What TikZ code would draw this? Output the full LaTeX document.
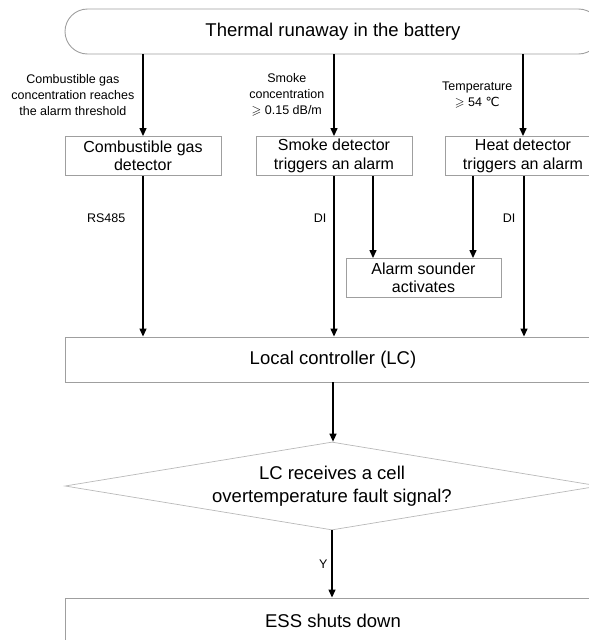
\documentclass[tikz,border=0pt]{standalone}
\usepackage{amssymb}
\usepackage{fontspec}
\setmainfont{Liberation Sans}
\newfontfamily\degfont{DejaVu Sans}
\usetikzlibrary{positioning,arrows.meta,shapes.geometric}

\begin{document}
\begin{tikzpicture}[x=1pt, y=-1pt,
  >={Triangle[length=8pt,width=7pt]},
  every node/.style={font=\fontsize{16}{18.4}\selectfont},
  box/.style={draw=gray!75, line width=0.9pt, align=center, inner sep=0pt,
    minimum width=156pt, minimum height=39pt},
  wide/.style={box, minimum width=536pt, minimum height=45pt,
    font=\fontsize{18.5}{21}\selectfont},
  start/.style={wide, rounded corners=22.5pt},
  decide/.style={diamond, draw=gray!55, line width=0.7pt, align=center, inner sep=0pt,
    shape aspect=6, minimum width=534pt, minimum height=88pt,
    font=\fontsize{18.5}{23}\selectfont},
  cond/.style={font=\fontsize{12.5}{16}\selectfont, align=center, inner sep=0pt},
  flow/.style={->, line width=1.3pt}]
  \useasboundingbox (0,0) rectangle (589,640);

  \node[start] (runaway) at (333,31.5) {Thermal runaway in the battery};
  \node[box] (gas)   at (143,156) {Combustible gas\\detector};
  \node[box] (smoke) at (334,156) {Smoke detector\\triggers an alarm};
  \node[box] (heat)  at (523,156) {Heat detector\\triggers an alarm};
  \node[box, minimum width=155pt] (sounder) at (423.5,278) {Alarm sounder\\activates};
  \node[wide] (lc) at (333,359.5) {Local controller (LC)};
  \node[decide] (fault) at (332,486) {LC receives a cell\\overtemperature fault signal?};
  \node[wide] (ess) at (333,620.5) {ESS shuts down};

  % detection thresholds
  \draw[flow] (runaway.south -| gas) -- node[cond, left=8pt] (gaslbl)
    {Combustible gas\\concentration reaches\\the alarm threshold} (gas);
  \draw[flow] (runaway.south -| smoke) -- node[cond, left=9pt] (smokelbl)
    {Smoke\\concentration\\$\geqslant$ 0.15 dB/m} (smoke);
  \draw[flow] (runaway.south -| heat) -- node[cond, left=10pt] (heatlbl)
    {Temperature\\$\geqslant$ 54 {\degfont ℃}} (heat);

  % signals to the controller
  \draw[flow] (gas) -- node[cond, pos=0.26, left=17pt] (rs) {RS485} (gas |- lc.north);
  \draw[flow] (smoke) -- node[cond, pos=0.26, left=7pt] (di1) {DI} (smoke |- lc.north);
  \draw[flow] ([xshift=1pt]heat.south) -- node[cond, pos=0.26, left=8pt] (di2) {DI}
    ([xshift=1pt]heat.south |- lc.north);

  % alarm sounder
  \draw[flow] ([xshift=39pt]smoke.south) -- ([xshift=39pt]smoke.south |- sounder.north);
  \draw[flow] ([xshift=-50pt]heat.south) -- ([xshift=-50pt]heat.south |- sounder.north);

  \draw[flow] (lc) -- (lc.south |- fault.north);
  \draw[flow] (fault) -- node[cond, left=4pt] (yes) {Y} (fault.south |- ess.north);
\end{tikzpicture}
\end{document}
